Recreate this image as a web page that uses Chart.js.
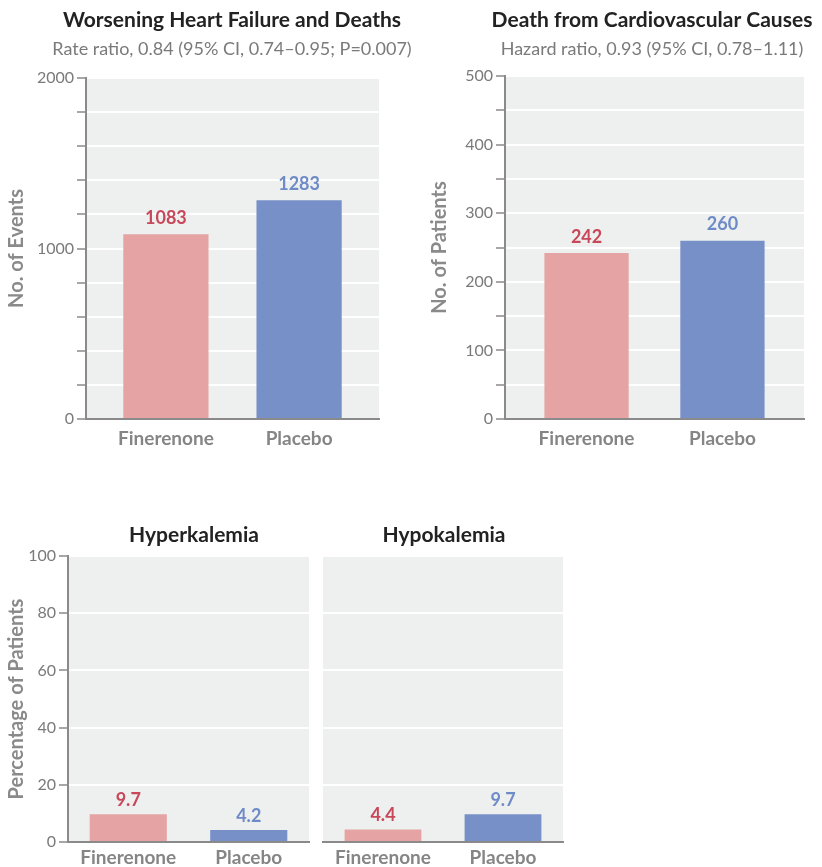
<!DOCTYPE html>
<html>
<head>
<meta charset="utf-8">
<script src="https://cdn.jsdelivr.net/npm/chart.js@4.4.1/dist/chart.umd.min.js"></script>
<style>
  body { margin: 0; background: #fff; }
  #wrap { position: relative; width: 822px; height: 867px; }
  canvas { position: absolute; }
</style>
</head>
<body>
<div id="wrap">
  <canvas id="hf" width="420" height="460" style="left:0;top:0"></canvas>
  <canvas id="cv" width="412" height="460" style="left:410px;top:0"></canvas>
  <canvas id="hyper" width="315" height="367" style="left:0;top:500px"></canvas>
  <canvas id="hypo" width="260" height="367" style="left:315px;top:500px"></canvas>
</div>
<script>
const groups = ['Finerenone', 'Placebo'];
const hfEvents = [1083, 1283];
const cvDeaths = [242, 260];
const hyperK = [9.7, 4.2];
const hypoK = [4.4, 9.7];
const barColors = ['#e5a3a4', '#7790c7'];
const labelColors = ['#c8485a', '#6f8bc7'];

const FONT = 'Lato, "Open Sans", sans-serif';
const axisGray = '#8a8a8a';

// grey plot background
const panelBg = {
  id: 'panelBg',
  beforeDraw(chart) {
    const a = chart.chartArea, c = chart.ctx;
    c.save();
    c.fillStyle = '#eef0ef';
    c.fillRect(a.left, a.top, a.right - a.left, a.bottom - a.top);
    c.restore();
  }
};

// numbers above the bars
const valueLabels = {
  id: 'valueLabels',
  afterDatasetsDraw(chart, args, opts) {
    const c = chart.ctx;
    const ds = chart.data.datasets[0];
    c.save();
    c.font = 'bold 18px ' + FONT;
    c.textAlign = 'center';
    c.textBaseline = 'middle';
    chart.getDatasetMeta(0).data.forEach((bar, i) => {
      c.fillStyle = labelColors[i];
      c.fillText(String(ds.data[i].y), bar.x, bar.y - opts.gap);
    });
    c.restore();
  }
};

// panel heading + subheading, centred where the original puts them
const headings = {
  id: 'headings',
  afterDraw(chart, args, o) {
    const c = chart.ctx;
    c.save();
    c.textAlign = 'center';
    c.textBaseline = 'alphabetic';
    c.fillStyle = '#222';
    c.font = 'bold 21px ' + FONT;
    c.fillText(o.title, o.cx, o.titleY);
    if (o.subtitle) {
      c.fillStyle = '#7a7a7a';
      c.font = '18px ' + FONT;
      c.fillText(o.subtitle, o.cx, o.subY);
    }
    c.restore();
  }
};

function makeChart(id, p) {
  const showAxis = p.yTitle !== undefined;
  new Chart(document.getElementById(id), {
    type: 'bar',
    data: {
      datasets: [{
        data: p.values.map((v, i) => ({ x: i, y: v })),
        backgroundColor: barColors,
        barPercentage: p.barPct,
        categoryPercentage: 1
      }]
    },
    plugins: [panelBg, valueLabels, headings],
    options: {
      responsive: false,
      animation: false,
      layout: { padding: p.pad },
      plugins: {
        legend: { display: false },
        tooltip: { enabled: false },
        valueLabels: { gap: p.gap },
        headings: { title: p.title, subtitle: p.subtitle, cx: p.cx, titleY: p.titleY, subY: p.subY }
      },
      scales: {
        x: {
          type: 'linear',
          offset: false,
          min: -p.xSide, max: groups.length - 1 + p.xSide,
          grid: { display: false, drawTicks: false, offset: false },
          border: { display: true, color: axisGray, width: 2 },
          afterBuildTicks(s) { s.ticks = groups.map((g, i) => ({ value: i })); },
          ticks: {
            color: '#858585', padding: p.xPad,
            font: { family: FONT, size: 19, weight: 'bold' },
            callback: v => groups[v]
          },
          afterFit(s) { s.height = p.xHeight; }
        },
        y: {
          min: 0, max: p.max,
          grid: {
            color: ctx => ctx.tick && ctx.tick.value === 0 ? 'rgba(0,0,0,0)' : '#ffffff',
            lineWidth: 2,
            drawTicks: showAxis,
            tickLength: 9,
            tickColor: axisGray,
            tickWidth: 1.5
          },
          border: { display: showAxis, color: axisGray, width: 2 },
          ticks: {
            display: showAxis,
            stepSize: p.step,
            autoSkip: false,
            padding: 3,
            color: '#7a7a7a',
            font: { family: FONT, size: 16 },
            callback: v => (v % p.labelEvery === 0 ? String(v) : '')
          },
          title: {
            display: showAxis, text: p.yTitle || '', color: '#8a8a8a',
            font: { family: FONT, size: 20, weight: 'bold' },
            padding: { top: 5, bottom: 0 }
          },
          afterFit(s) { s.width = p.yWidth; }
        }
      }
    }
  });
}

makeChart('hf', {
  values: hfEvents, max: 2000, step: 200, labelEvery: 1000,
  title: 'Worsening Heart Failure and Deaths',
  subtitle: 'Rate ratio, 0.84 (95% CI, 0.74\u20130.95; P=0.007)',
  yTitle: 'No. of Events',
  cx: 232, titleY: 27, subY: 55,
  pad: { left: 0, right: 41, top: 78, bottom: 0 },
  yWidth: 86, xHeight: 41, xPad: 8, xSide: 0.6, barPct: 0.64, gap: 16
});

makeChart('cv', {
  values: cvDeaths, max: 500, step: 50, labelEvery: 100,
  title: 'Death from Cardiovascular Causes',
  subtitle: 'Hazard ratio, 0.93 (95% CI, 0.78\u20131.11)',
  yTitle: 'No. of Patients',
  cx: 242, titleY: 27, subY: 55,
  pad: { left: 13, right: 18, top: 76, bottom: 0 },
  yWidth: 82, xHeight: 41, xPad: 8, xSide: 0.6, barPct: 0.62, gap: 16
});

makeChart('hyper', {
  values: hyperK, max: 100, step: 20, labelEvery: 20,
  title: 'Hyperkalemia',
  yTitle: 'Percentage of Patients',
  cx: 194, titleY: 42,
  pad: { left: 0, right: 6, top: 56, bottom: 0 },
  yWidth: 68, xHeight: 25, xPad: 4, xSide: 0.5, barPct: 0.64, gap: 14
});

makeChart('hypo', {
  values: hypoK, max: 100, step: 20, labelEvery: 20,
  title: 'Hypokalemia',
  cx: 129, titleY: 42,
  pad: { left: 0, right: 12, top: 56, bottom: 0 },
  yWidth: 8, xHeight: 25, xPad: 4, xSide: 0.5, barPct: 0.64, gap: 14
});
</script>
</body>
</html>
